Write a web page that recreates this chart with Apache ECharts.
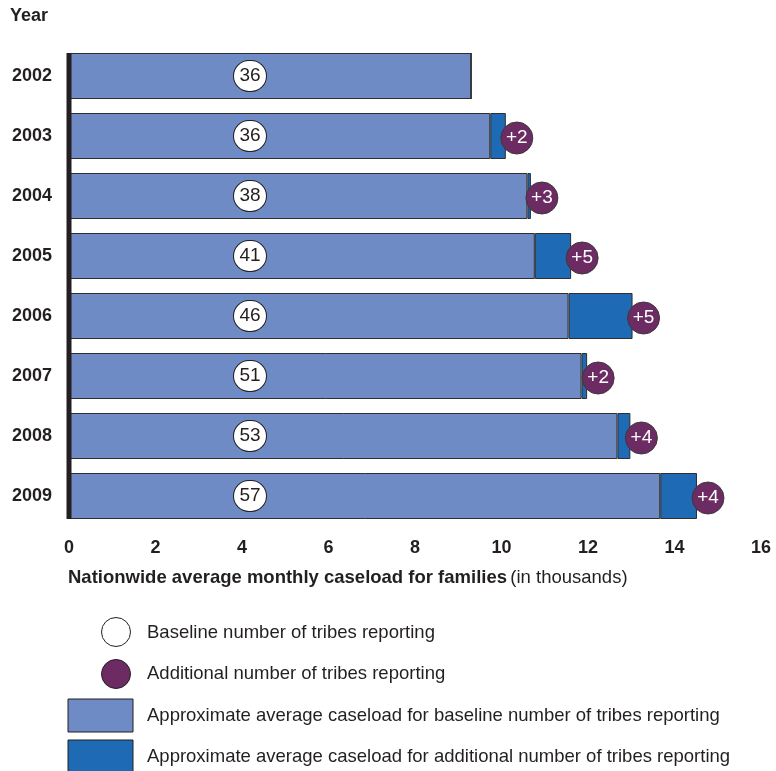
<!DOCTYPE html>
<html><head><meta charset="utf-8">
<script src="https://cdn.jsdelivr.net/npm/echarts@6/dist/echarts.min.js"></script>
<style>html,body{margin:0;padding:0;background:#fff}#c{width:776px;height:771px}</style>
</head><body><div id="c"></div>
<script>
const years = ['2002', '2003', '2004', '2005', '2006', '2007', '2008', '2009'];
const baselineCaseload = [9.30, 9.74, 10.60, 10.77, 11.55, 11.85, 12.68, 13.67];
const additionalCaseload = [0, 0.36, 0.08, 0.84, 1.48, 0.13, 0.30, 0.85];
const baselineTribes = [36, 36, 38, 41, 46, 51, 53, 57];
const additionalTribes = [0, 2, 3, 5, 5, 2, 4, 4];
const legendLabels = [
  'Baseline number of tribes reporting',
  'Additional number of tribes reporting',
  'Approximate average caseload for baseline number of tribes reporting',
  'Approximate average caseload for additional number of tribes reporting'
];

const FONT = '"Liberation Sans", Arial, Helvetica, sans-serif';
const INK = '#231f20';
const C_BASE = '#6f8bc6';
const C_ADD = '#1f6ab4';
const C_PURPLE = '#6c2b62';
const BAR_W = 46;

const purpleData = [];
years.forEach((y, i) => {
  if (additionalTribes[i] > 0) {
    purpleData.push({ value: [baselineCaseload[i] + additionalCaseload[i], y], tribes: additionalTribes[i] });
  }
});

const chart = echarts.init(document.getElementById('c'), null, { renderer: 'canvas' });
chart.setOption({
  animation: false,
  textStyle: { fontFamily: FONT },
  grid: { left: 69, right: 15, top: 46, bottom: 245, containLabel: false },
  xAxis: {
    type: 'value', min: 0, max: 16, interval: 2,
    axisLine: { show: false }, axisTick: { show: false }, splitLine: { show: false },
    axisLabel: { color: INK, fontSize: 18, fontWeight: 'bold', fontFamily: FONT, margin: 13 }
  },
  yAxis: {
    type: 'category', data: years, inverse: true,
    axisLine: { show: false },
    axisTick: { show: false },
    axisLabel: { color: INK, fontSize: 18, fontWeight: 'bold', fontFamily: FONT, margin: 17 }
  },
  series: [
    {
      name: 'baseline', type: 'bar', stack: 'total', barWidth: BAR_W,
      data: baselineCaseload,
      itemStyle: { color: C_BASE, borderColor: '#2e2e2e', borderWidth: 1 },
      label: {
        show: true, position: [181, '50%'], align: 'center', verticalAlign: 'middle',
        formatter: (p) => String(baselineTribes[p.dataIndex]),
        color: INK, fontSize: 19, fontFamily: FONT,
        backgroundColor: '#fff', borderColor: INK, borderWidth: 1, borderRadius: 16,
        width: 32, height: 30, lineHeight: 30
      },
      z: 2
    },
    {
      name: 'additional', type: 'bar', stack: 'total', barWidth: BAR_W,
      data: additionalCaseload,
      itemStyle: { color: C_ADD, borderColor: '#2e2e2e', borderWidth: 1 },
      z: 2
    },
    {
      name: 'axisBar', type: 'custom',
      data: [0],
      renderItem: (params, api) => {
        const top = api.coord([0, years[0]]);
        const bot = api.coord([0, years[years.length - 1]]);
        return {
          type: 'rect',
          shape: { x: top[0] - 2.5, y: top[1] - BAR_W / 2, width: 5, height: bot[1] - top[1] + BAR_W },
          style: { fill: INK }
        };
      },
      z: 4, silent: true
    },
    {
      name: 'additionalTribes', type: 'scatter',
      data: purpleData, symbol: 'circle', symbolSize: 32, symbolOffset: [11, 2],
      itemStyle: { color: C_PURPLE, borderColor: '#3a3a3a', borderWidth: 1, opacity: 1 },
      label: {
        show: true, position: 'inside',
        formatter: (p) => '+' + p.data.tribes,
        color: '#fff', fontSize: 19, fontFamily: FONT
      },
      z: 5
    }
  ],
  graphic: [
    { type: 'text', x: 10, y: 16, style: { text: 'Year', fill: INK, font: 'bold 18px ' + FONT, verticalAlign: 'middle' } },
    { type: 'text', x: 68, y: 578, style: {
        text: '{b|Nationwide average monthly caseload for families} {n|(in thousands)}',
        verticalAlign: 'middle',
        rich: {
          b: { fontSize: 18.5, fontWeight: 'bold', fill: INK, fontFamily: FONT },
          n: { fontSize: 18.5, fill: INK, fontFamily: FONT }
        }
    } },
    { type: 'circle', shape: { cx: 116, cy: 632, r: 14.5 }, style: { fill: '#fff', stroke: INK, lineWidth: 1 } },
    { type: 'circle', shape: { cx: 116, cy: 674, r: 14.5 }, style: { fill: C_PURPLE, stroke: INK, lineWidth: 1 } },
    { type: 'rect', shape: { x: 68, y: 699, width: 65, height: 33 }, style: { fill: C_BASE, stroke: INK, lineWidth: 1 } },
    { type: 'rect', shape: { x: 68, y: 740, width: 65, height: 33 }, style: { fill: C_ADD, stroke: INK, lineWidth: 1 } },
    { type: 'text', x: 147, y: 633, style: { text: legendLabels[0], fill: INK, font: '18.5px ' + FONT, verticalAlign: 'middle' } },
    { type: 'text', x: 147, y: 674, style: { text: legendLabels[1], fill: INK, font: '18.5px ' + FONT, verticalAlign: 'middle' } },
    { type: 'text', x: 147, y: 716, style: { text: legendLabels[2], fill: INK, font: '18.5px ' + FONT, verticalAlign: 'middle' } },
    { type: 'text', x: 147, y: 757, style: { text: legendLabels[3], fill: INK, font: '18.5px ' + FONT, verticalAlign: 'middle' } }
  ]
});
</script>
</body></html>
